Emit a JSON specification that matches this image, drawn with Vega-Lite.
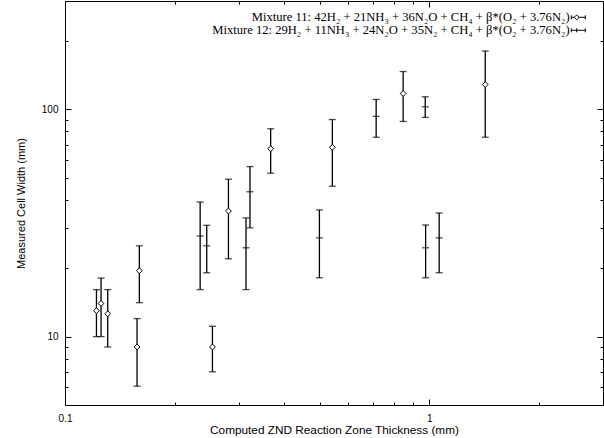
{
  "$schema": "https://vega.github.io/schema/vega-lite/v6.json",
  "width": 538,
  "height": 404,
  "autosize": {"type": "none"},
  "padding": {"left": 65, "top": 1, "right": 1, "bottom": 33},
  "background": "white",
  "config": {
    "view": {"stroke": "black", "strokeWidth": 1},
    "axis": {
      "grid": false, "domain": false, "tickColor": "black", "labelColor": "black", "titleColor": "black",
      "labelFont": "Liberation Sans", "labelFontSize": 10, "titleFont": "Liberation Sans", "titleFontSize": 11,
      "titleFontWeight": "normal", "labelFlush": false, "tickWidth": 1
    }
  },
  "data": {
    "values": [
      {"mix": "Mixture 11: 42H₂ + 21NH₃ + 36N₂O + CH₄ + β*(O₂ + 3.76N₂)", "x": 0.122, "y": 13.0, "lo": 10.0, "hi": 16.1},
      {"mix": "Mixture 11: 42H₂ + 21NH₃ + 36N₂O + CH₄ + β*(O₂ + 3.76N₂)", "x": 0.1256, "y": 14.0, "lo": 10.0, "hi": 18.1},
      {"mix": "Mixture 11: 42H₂ + 21NH₃ + 36N₂O + CH₄ + β*(O₂ + 3.76N₂)", "x": 0.131, "y": 12.6, "lo": 9.0, "hi": 16.1},
      {"mix": "Mixture 11: 42H₂ + 21NH₃ + 36N₂O + CH₄ + β*(O₂ + 3.76N₂)", "x": 0.160, "y": 19.5, "lo": 14.1, "hi": 25.1},
      {"mix": "Mixture 11: 42H₂ + 21NH₃ + 36N₂O + CH₄ + β*(O₂ + 3.76N₂)", "x": 0.1577, "y": 9.0, "lo": 6.05, "hi": 12.0},
      {"mix": "Mixture 11: 42H₂ + 21NH₃ + 36N₂O + CH₄ + β*(O₂ + 3.76N₂)", "x": 0.254, "y": 9.0, "lo": 7.0, "hi": 11.1},
      {"mix": "Mixture 11: 42H₂ + 21NH₃ + 36N₂O + CH₄ + β*(O₂ + 3.76N₂)", "x": 0.281, "y": 35.7, "lo": 22.0, "hi": 49.3},
      {"mix": "Mixture 11: 42H₂ + 21NH₃ + 36N₂O + CH₄ + β*(O₂ + 3.76N₂)", "x": 0.367, "y": 67.1, "lo": 52.4, "hi": 82.2},
      {"mix": "Mixture 11: 42H₂ + 21NH₃ + 36N₂O + CH₄ + β*(O₂ + 3.76N₂)", "x": 0.542, "y": 68.1, "lo": 45.9, "hi": 90.2},
      {"mix": "Mixture 11: 42H₂ + 21NH₃ + 36N₂O + CH₄ + β*(O₂ + 3.76N₂)", "x": 0.848, "y": 117.5, "lo": 88.5, "hi": 146.8},
      {"mix": "Mixture 11: 42H₂ + 21NH₃ + 36N₂O + CH₄ + β*(O₂ + 3.76N₂)", "x": 1.425, "y": 128.7, "lo": 75.4, "hi": 180.7},
      {"mix": "Mixture 12: 29H₂ + 11NH₃ + 24N₂O + 35N₂ + CH₄ + β*(O₂ + 3.76N₂)", "x": 0.235, "y": 27.7, "lo": 16.1, "hi": 39.1},
      {"mix": "Mixture 12: 29H₂ + 11NH₃ + 24N₂O + 35N₂ + CH₄ + β*(O₂ + 3.76N₂)", "x": 0.245, "y": 25.1, "lo": 19.1, "hi": 30.9},
      {"mix": "Mixture 12: 29H₂ + 11NH₃ + 24N₂O + 35N₂ + CH₄ + β*(O₂ + 3.76N₂)", "x": 0.314, "y": 24.6, "lo": 16.1, "hi": 33.3},
      {"mix": "Mixture 12: 29H₂ + 11NH₃ + 24N₂O + 35N₂ + CH₄ + β*(O₂ + 3.76N₂)", "x": 0.322, "y": 43.4, "lo": 30.1, "hi": 56.0},
      {"mix": "Mixture 12: 29H₂ + 11NH₃ + 24N₂O + 35N₂ + CH₄ + β*(O₂ + 3.76N₂)", "x": 0.4995, "y": 27.2, "lo": 18.15, "hi": 36.1},
      {"mix": "Mixture 12: 29H₂ + 11NH₃ + 24N₂O + 35N₂ + CH₄ + β*(O₂ + 3.76N₂)", "x": 0.715, "y": 93.2, "lo": 75.4, "hi": 110.6},
      {"mix": "Mixture 12: 29H₂ + 11NH₃ + 24N₂O + 35N₂ + CH₄ + β*(O₂ + 3.76N₂)", "x": 0.975, "y": 102.7, "lo": 92.2, "hi": 113.6},
      {"mix": "Mixture 12: 29H₂ + 11NH₃ + 24N₂O + 35N₂ + CH₄ + β*(O₂ + 3.76N₂)", "x": 0.9775, "y": 24.6, "lo": 18.15, "hi": 31.0},
      {"mix": "Mixture 12: 29H₂ + 11NH₃ + 24N₂O + 35N₂ + CH₄ + β*(O₂ + 3.76N₂)", "x": 1.065, "y": 27.2, "lo": 19.1, "hi": 35.0}
    ]
  },
  "resolve": {"axis": {"x": "independent", "y": "independent"}},
  "layer": [
    {
      "mark": {"type": "rule", "color": "black", "strokeWidth": 1.3},
      "encoding": {
        "x": {
          "field": "x", "type": "quantitative",
          "scale": {"type": "log", "domain": [0.1, 3], "nice": false},
          "axis": {
            "title": "Computed ZND Reaction Zone Thickness (mm)",
            "titleFontSize": 11.8,
            "values": [0.1, 0.2, 0.3, 0.4, 0.5, 0.6, 0.7, 0.8, 0.9, 1, 2],
            "format": "~g",
            "labelExpr": "datum.value == 0.1 || datum.value == 1 ? datum.label : ''",
            "tickSize": {"condition": {"test": "datum.value == 0.1 || datum.value == 1", "value": -6}, "value": -3},
            "labelPadding": 14, "titlePadding": 1
          }
        },
        "y": {
          "field": "lo", "type": "quantitative",
          "scale": {"type": "log", "domain": [5, 300], "nice": false},
          "axis": {
            "title": "Measured Cell Width (mm)",
            "values": [6, 7, 8, 9, 10, 20, 30, 40, 50, 60, 70, 80, 90, 100, 200],
            "format": "~g",
            "labelExpr": "datum.value == 10 || datum.value == 100 ? datum.label : ''",
            "tickSize": {"condition": {"test": "datum.value == 10 || datum.value == 100", "value": -6}, "value": -3},
            "labelPadding": 13, "titlePadding": 15
          }
        },
        "y2": {"field": "hi"}
      }
    },
    {
      "mark": {"type": "tick", "orient": "horizontal", "color": "black", "size": 7, "thickness": 1.3},
      "encoding": {
        "x": {
          "field": "x", "type": "quantitative",
          "axis": {
            "orient": "top", "labels": false, "title": null,
            "values": [0.1, 0.2, 0.3, 0.4, 0.5, 0.6, 0.7, 0.8, 0.9, 1, 2],
            "tickSize": {"condition": {"test": "datum.value == 0.1 || datum.value == 1", "value": -6}, "value": -3}
          }
        },
        "y": {
          "field": "lo", "type": "quantitative",
          "axis": {
            "orient": "right", "labels": false, "title": null,
            "values": [6, 7, 8, 9, 10, 20, 30, 40, 50, 60, 70, 80, 90, 100, 200],
            "tickSize": {"condition": {"test": "datum.value == 10 || datum.value == 100", "value": -6}, "value": -3}
          }
        }
      }
    },
    {
      "mark": {"type": "tick", "orient": "horizontal", "color": "black", "size": 7, "thickness": 1.3},
      "encoding": {
        "x": {"field": "x", "type": "quantitative", "axis": null},
        "y": {"field": "hi", "type": "quantitative", "axis": null}
      }
    },
    {
      "transform": [{"filter": "indexof(datum.mix, 'Mixture 12') == 0"}],
      "mark": {"type": "tick", "orient": "horizontal", "color": "black", "size": 7, "thickness": 1.3},
      "encoding": {
        "x": {"field": "x", "type": "quantitative", "axis": null},
        "y": {"field": "y", "type": "quantitative", "axis": null}
      }
    },
    {
      "transform": [{"filter": "indexof(datum.mix, 'Mixture 11') == 0"}],
      "mark": {"type": "point", "shape": "diamond", "size": 34, "filled": true, "fill": "white", "stroke": "black", "strokeWidth": 1, "opacity": 1},
      "encoding": {
        "x": {"field": "x", "type": "quantitative", "axis": null},
        "y": {"field": "y", "type": "quantitative", "axis": null}
      }
    },
    {
      "transform": [{"filter": "false"}],
      "mark": {"type": "point", "filled": false, "color": "black", "strokeWidth": 1, "opacity": 1},
      "encoding": {
        "x": {"field": "x", "type": "quantitative", "axis": null},
        "y": {"field": "y", "type": "quantitative", "axis": null},
        "shape": {
          "field": "mix", "type": "nominal",
          "scale": {
            "domain": [
              "Mixture 11: 42H₂ + 21NH₃ + 36N₂O + CH₄ + β*(O₂ + 3.76N₂)",
              "Mixture 12: 29H₂ + 11NH₃ + 24N₂O + 35N₂ + CH₄ + β*(O₂ + 3.76N₂)"
            ],
            "range": [
              "M-1.75,-0.5V0.5M-1.75,0H-1M0.2,0H1.75M1.75,-0.5V0.5M-1,0L-0.4,-0.6L0.2,0L-0.4,0.6Z",
              "M-1.75,-0.5V0.5M-1.75,0H1.75M1.75,-0.5V0.5M-0.4,-0.5V0.5"
            ]
          },
          "legend": {
            "orient": "none", "legendX": 507, "legendY": 10, "title": null, "padding": 0,
            "labelAlign": "right", "labelOffset": -15, "labelFont": "Liberation Serif", "labelFontSize": 12.6,
            "labelColor": "black", "labelLimit": 0, "symbolSize": 64, "rowPadding": 0,
            "symbolStrokeColor": "black", "symbolStrokeWidth": 1, "symbolFillColor": "transparent", "symbolOpacity": 1
          }
        }
      }
    }
  ]
}
